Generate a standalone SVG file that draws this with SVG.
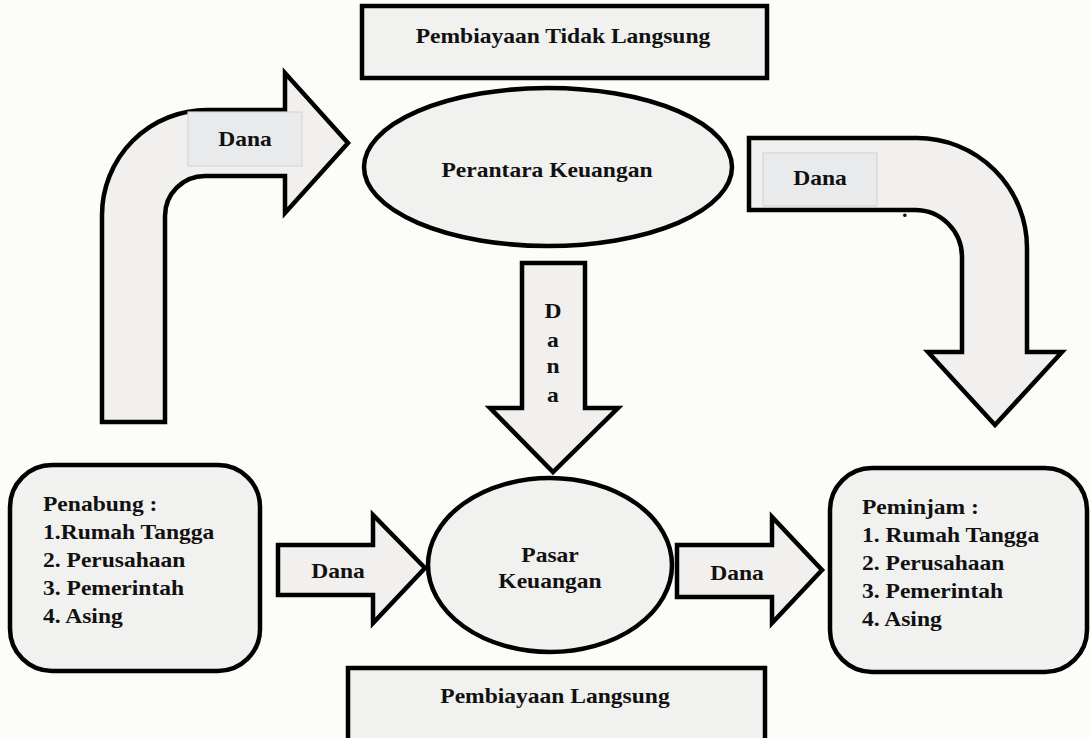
<svg xmlns="http://www.w3.org/2000/svg" width="1091" height="738" viewBox="0 0 1091 738">
<style>
.bg{fill:#fcfdf8}
.shape{fill:#f1f1f0;stroke:#000;stroke-width:4.5;stroke-linejoin:miter}
.arrow{fill:#f1f0ee;stroke:#000;stroke-width:4.5;stroke-linejoin:miter}
.lbl{fill:#e9eaeb;stroke:#d6d6d6;stroke-width:1.2}
text{font-family:"Liberation Serif","Times New Roman",serif;font-weight:bold;font-size:22px;fill:#111}
.c{text-anchor:middle}
</style>
<rect class="bg" x="0" y="0" width="1091" height="738"/>

<g id="connectors">
  <g id="arrow-penabung-perantara">
    <path class="arrow" d="M102,422 L102,215 A105,105 0 0 1 207,110 L285,110 L285,73 L348,143 L285,213 L285,176 L205,176 A40,40 0 0 0 165,216 L165,422 Z"/>
    <rect class="lbl" x="188" y="112" width="114" height="54"/>
    <text class="c" transform="translate(245 146) scale(1.07 1)">Dana</text>
  </g>
  <g id="arrow-perantara-peminjam">
    <path class="arrow" d="M749,138 L917,138 A110,110 0 0 1 1027,248 L1027,352 L1062,352 L995,425 L928,352 L962,352 L962,257 A47,47 0 0 0 915,210 L749,210 Z"/>
    <rect class="lbl" x="763" y="153" width="114" height="53"/>
    <text class="c" transform="translate(820 185) scale(1.07 1)">Dana</text>
    <text transform="translate(902 217)">.</text>
  </g>
  <g id="arrow-perantara-pasar">
    <path class="arrow" d="M522,263 L585,263 L585,408 L618,408 L553,472 L490,408 L522,408 Z"/>
    <text class="c" transform="translate(553 318) scale(1.07 1)">D</text>
    <text class="c" transform="translate(553 347) scale(1.07 1)">a</text>
    <text class="c" transform="translate(553 373) scale(1.07 1)">n</text>
    <text class="c" transform="translate(553 402) scale(1.07 1)">a</text>
  </g>
  <g id="arrow-penabung-pasar">
    <path class="arrow" d="M278,545 L373,545 L373,515 L425,568 L373,623 L373,595 L278,595 Z"/>
    <text class="c" transform="translate(338 578) scale(1.07 1)">Dana</text>
  </g>
  <g id="arrow-pasar-peminjam">
    <path class="arrow" d="M677,545 L772,545 L772,517 L822,570 L772,623 L772,597 L677,597 Z"/>
    <text class="c" transform="translate(737 580) scale(1.07 1)">Dana</text>
  </g>
</g>

<g id="pembiayaan-tidak-langsung">
  <rect class="shape" x="362" y="6" width="405" height="72"/>
  <text class="c" transform="translate(563 43) scale(1.07 1)">Pembiayaan Tidak Langsung</text>
</g>

<g id="perantara-keuangan">
  <ellipse class="shape" cx="548" cy="167" rx="184" ry="79"/>
  <text class="c" transform="translate(547 177) scale(1.07 1)">Perantara Keuangan</text>
</g>

<g id="penabung">
  <rect class="shape" x="10" y="465" width="250" height="206" rx="42" ry="42"/>
  <text transform="translate(43 511) scale(1.07 1)">Penabung :</text>
  <text transform="translate(43 539) scale(1.07 1)">1.Rumah Tangga</text>
  <text transform="translate(43 567) scale(1.07 1)">2. Perusahaan</text>
  <text transform="translate(43 595) scale(1.07 1)">3. Pemerintah</text>
  <text transform="translate(43 623) scale(1.07 1)">4. Asing</text>
</g>

<g id="pasar-keuangan">
  <ellipse class="shape" cx="550" cy="565" rx="122" ry="87"/>
  <text class="c" transform="translate(550 562) scale(1.07 1)">Pasar</text>
  <text class="c" transform="translate(550 588) scale(1.07 1)">Keuangan</text>
</g>

<g id="peminjam">
  <rect class="shape" x="830" y="468" width="257" height="204" rx="42" ry="42"/>
  <text transform="translate(862 514) scale(1.07 1)">Peminjam :</text>
  <text transform="translate(862 542) scale(1.07 1)">1. Rumah Tangga</text>
  <text transform="translate(862 570) scale(1.07 1)">2. Perusahaan</text>
  <text transform="translate(862 598) scale(1.07 1)">3. Pemerintah</text>
  <text transform="translate(862 626) scale(1.07 1)">4. Asing</text>
</g>

<g id="pembiayaan-langsung">
  <rect class="shape" x="348" y="668" width="417" height="80"/>
  <text class="c" transform="translate(555 703) scale(1.07 1)">Pembiayaan Langsung</text>
</g>
</svg>
